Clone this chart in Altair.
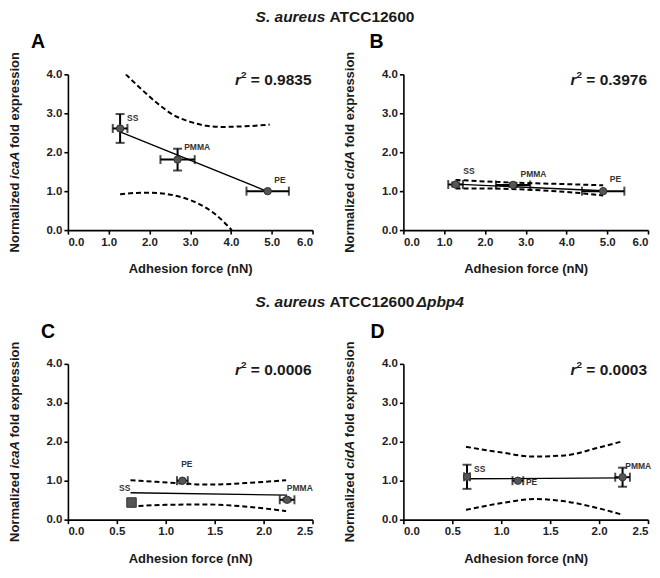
import altair as alt
import pandas as pd

FONT = "Liberation Sans"
W, H = 245, 156

materials = ["SS", "PMMA", "PE"]

# adhesion force (nN): wild type (A, B) and Δpbp4 mutant (C, D)
force_wt = [1.28, 2.69, 4.90]
force_wt_err = [0.18, 0.42, 0.52]
force_mut = [0.65, 2.24, 1.17]
force_mut_err = [0.03, 0.075, 0.055]

# normalized fold expression
icaA_wt = [2.61, 1.81, 1.00]
icaA_wt_err = [0.37, 0.28, 0.0]
cidA_wt = [1.17, 1.16, 1.00]
cidA_wt_err = [0.05, 0.05, 0.0]
icaA_mut = [0.44, 0.51, 1.00]
icaA_mut_err = [0.06, 0.04, 0.0]
cidA_mut = [1.10, 1.09, 1.00]
cidA_mut_err = [0.31, 0.245, 0.0]

# marker shapes and sizes
shapes_default = ["circle", "circle", "circle"]
shapes_c = ["square", "circle", "circle"]
sizes_default = [55, 55, 55]
sizes_c = [90, 55, 55]

# label anchor positions (data units)
labA_x, labA_y = [1.59, 3.17, 5.20], [2.87, 2.14, 1.29]
labB_x, labB_y = [1.61, 3.19, 5.20], [1.53, 1.43, 1.30]
labC_x, labC_y = [0.58, 2.37, 1.215], [0.81, 0.81, 1.43]
labD_x, labD_y = [0.78, 2.40, 1.31], [1.29, 1.38, 0.97]

# regression lines
regA_x, regA_y = [1.28, 4.90], [2.52, 0.99]
regB_x, regB_y = [1.28, 4.90], [1.18, 1.01]
regC_x, regC_y = [0.64, 2.24], [0.69, 0.63]
regD_x, regD_y = [0.64, 2.24], [1.05, 1.07]

# 95% confidence bands
upA_x = [1.42, 1.8, 2.2, 2.6, 3.0, 3.4, 3.8, 4.2, 4.6, 4.95]
upA_y = [4.0, 3.62, 3.25, 2.95, 2.78, 2.68, 2.65, 2.66, 2.68, 2.71]
loA_x = [1.28, 1.6, 2.0, 2.4, 2.8, 3.2, 3.6, 4.02]
loA_y = [0.92, 0.95, 0.96, 0.93, 0.84, 0.68, 0.42, 0.0]
upB_x = [1.28, 2.0, 3.0, 4.0, 4.9]
upB_y = [1.29, 1.25, 1.21, 1.18, 1.15]
loB_x = [1.28, 2.0, 3.0, 4.0, 4.9]
loB_y = [1.07, 1.07, 1.04, 0.98, 0.89]
upC_x = [0.64, 0.9, 1.17, 1.41, 1.6, 1.81, 2.0, 2.23]
upC_y = [1.01, 0.97, 0.93, 0.90, 0.91, 0.94, 0.97, 1.01]
loC_x = [0.64, 1.0, 1.4, 1.8, 2.0, 2.23]
loC_y = [0.34, 0.38, 0.39, 0.34, 0.29, 0.22]
upD_x = [0.64, 0.99, 1.32, 1.65, 1.98, 2.22]
upD_y = [1.87, 1.73, 1.62, 1.65, 1.84, 2.0]
loD_x = [0.64, 0.99, 1.35, 1.65, 1.98, 2.22]
loD_y = [0.25, 0.42, 0.53, 0.47, 0.30, 0.14]

y_ticks = [0, 1, 2, 3, 4]
x_ticks_wt = [0, 1, 2, 3, 4, 5, 6]
x_ticks_mut = [0, 0.5, 1.0, 1.5, 2.0, 2.5]

SPACE = 0.278  # em width of a space in Arial/Liberation Sans Bold


def txt(text, x, y, size, style="normal", weight="bold", align="left",
        dx=0, dy=0, angle=0, color="#1a1a1a"):
    return alt.Chart(pd.DataFrame({"t": [text]})).mark_text(
        font=FONT, fontSize=size, fontStyle=style, fontWeight=weight,
        align=align, baseline="middle", dx=dx, dy=dy, angle=angle, color=color
    ).encode(text="t:N", x=alt.value(x), y=alt.value(y))


def panel(letter, gene, r2, x, xerr, y, yerr, shapes, sizes, lab_x, lab_y,
          reg_x, reg_y, up_x, up_y, lo_x, lo_y, xticks, letter_dx, title=None):
    xmax = xticks[-1]
    xs = alt.Scale(domain=[0, xmax], nice=False, zero=False)
    ys = alt.Scale(domain=[0, 4], nice=False, zero=False)
    xaxis = alt.Axis(values=xticks, format=".1f", title="Adhesion force (nN)")
    yaxis = alt.Axis(values=y_ticks, format=".1f", title=None)

    def X(f):
        return alt.X(f, type="quantitative", scale=xs, axis=xaxis)

    def Y(f):
        return alt.Y(f, type="quantitative", scale=ys, axis=yaxis)

    pts = pd.DataFrame({
        "m": materials, "x": x, "y": y, "shape": shapes, "size": sizes,
        "xlo": [a - b for a, b in zip(x, xerr)],
        "xhi": [a + b for a, b in zip(x, xerr)],
        "ylo": [a - b for a, b in zip(y, yerr)],
        "yhi": [a + b for a, b in zip(y, yerr)],
        "yerr": yerr, "lx": lab_x, "ly": lab_y,
    })
    base = alt.Chart(pts)
    dash = dict(color="black", strokeWidth=2, strokeDash=[5, 3],
                interpolate="monotone", clip=True)
    up = alt.Chart(pd.DataFrame({"x": up_x, "y": up_y})).mark_line(**dash).encode(X("x"), Y("y"))
    lo = alt.Chart(pd.DataFrame({"x": lo_x, "y": lo_y})).mark_line(**dash).encode(X("x"), Y("y"))
    reg = alt.Chart(pd.DataFrame({"x": reg_x, "y": reg_y})).mark_line(
        color="black", strokeWidth=1.3).encode(X("x"), Y("y"))
    xrule = base.mark_rule(color="black", strokeWidth=2).encode(X("xlo"), x2="xhi", y=Y("y"))
    xcap1 = base.mark_tick(orient="vertical", size=9, thickness=2, color="black").encode(X("xlo"), Y("y"))
    xcap2 = base.mark_tick(orient="vertical", size=9, thickness=2, color="black").encode(X("xhi"), Y("y"))
    yb = base.transform_filter("datum.yerr > 0")
    yrule = yb.mark_rule(color="black", strokeWidth=2).encode(X("x"), Y("ylo"), y2="yhi")
    ycap1 = yb.mark_tick(orient="horizontal", size=9, thickness=2, color="black").encode(X("x"), Y("ylo"))
    ycap2 = yb.mark_tick(orient="horizontal", size=9, thickness=2, color="black").encode(X("x"), Y("yhi"))
    points = base.mark_point(filled=True, opacity=1, color="#555555",
                             stroke="#333333", strokeWidth=1).encode(
        X("x"), Y("y"), shape=alt.Shape("shape:N", scale=None),
        size=alt.Size("size:Q", scale=None))
    labels = base.mark_text(font=FONT, fontSize=8.5, fontWeight="bold",
                            color="#333333").encode(X("lx"), Y("ly"), text="m:N")

    # r^2 annotation
    r2_main = "= " + r2
    widths = {" ": 0.278, "=": 0.584, ".": 0.278}
    main_w = sum(widths.get(ch, 0.556) for ch in r2_main) * 15.5 + SPACE * 15.5
    ann = [
        txt(r2_main, W - 1, 6, 15.5, align="right"),
        txt("2", W - 1, 6, 10, align="right", dx=-main_w, dy=-5),
        txt("r", W - 1, 6, 15.5, style="italic", align="right", dx=-main_w - 5.6),
        txt(letter, letter_dx, -32, 19.5, align="left", color="black"),
    ]
    # y-axis title: "Normalized <gene> fold expression" with italic gene name
    fs = 13
    w0 = 5.658 * fs
    gene_w = {"icaA": 2.112, "cidA": 2.167}[gene] * fs
    w2 = 7.669 * fs
    T = w0 + gene_w + w2
    ann += [
        txt("Normalized", -53, H / 2, fs, angle=270, dx=-T / 2),
        txt(gene, -53, H / 2, fs, style="italic", angle=270, dx=-T / 2 + w0),
        txt("fold expression", -53, H / 2, fs, angle=270,
            dx=-T / 2 + w0 + gene_w + SPACE * fs),
    ]
    if title is not None:
        ty, extra = title
        ts = 15.5
        ann += [
            txt("S. aureus", 188, ty, ts, style="italic"),
            txt("ATCC12600", 188, ty, ts, dx=(4.502 + SPACE) * ts),
        ]
        if extra:
            ann.append(txt("\u0394pbp4", 188, ty, ts, style="italic",
                           dx=(4.502 + 5.835) * ts + 1))

    return alt.layer(up, lo, reg, xrule, xcap1, xcap2, yrule, ycap1, ycap2,
                     points, labels, *ann).properties(width=W, height=H)


pA = panel("A", "icaA", "0.9835", force_wt, force_wt_err, icaA_wt, icaA_wt_err,
           shapes_default, sizes_default, labA_x, labA_y, regA_x, regA_y,
           upA_x, upA_y, loA_x, loA_y, x_ticks_wt, -37, title=(-57, False))
pB = panel("B", "cidA", "0.3976", force_wt, force_wt_err, cidA_wt, cidA_wt_err,
           shapes_default, sizes_default, labB_x, labB_y, regB_x, regB_y,
           upB_x, upB_y, loB_x, loB_y, x_ticks_wt, -34)
pC = panel("C", "icaA", "0.0006", force_mut, force_mut_err, icaA_mut, icaA_mut_err,
           shapes_c, sizes_c, labC_x, labC_y, regC_x, regC_y,
           upC_x, upC_y, loC_x, loC_y, x_ticks_mut, -27, title=(-62, True))
pD = panel("D", "cidA", "0.0003", force_mut, force_mut_err, cidA_mut, cidA_mut_err,
           shapes_default, sizes_default, labD_x, labD_y, regD_x, regD_y,
           upD_x, upD_y, loD_x, loD_y, x_ticks_mut, -33)

chart = alt.concat(
    pA, pB, pC, pD, columns=2, bounds="flush",
    spacing={"row": 134, "column": 91}
).properties(
    padding={"top": 2, "left": 0, "right": 0, "bottom": 0}
).configure_view(stroke=None).configure_axis(
    domainColor="black", domainWidth=1.6, tickColor="black", tickWidth=1.6,
    tickSize=4, labelFont=FONT, labelFontSize=11.5, labelFontWeight="bold",
    labelColor="#222222", titleFont=FONT, titleFontSize=13, titleFontWeight="bold",
    titleColor="#1a1a1a", grid=False, labelPadding=2
).configure_axisX(titlePadding=15)

chart.save("out.html", embed_options={"renderer": "svg", "actions": False})
